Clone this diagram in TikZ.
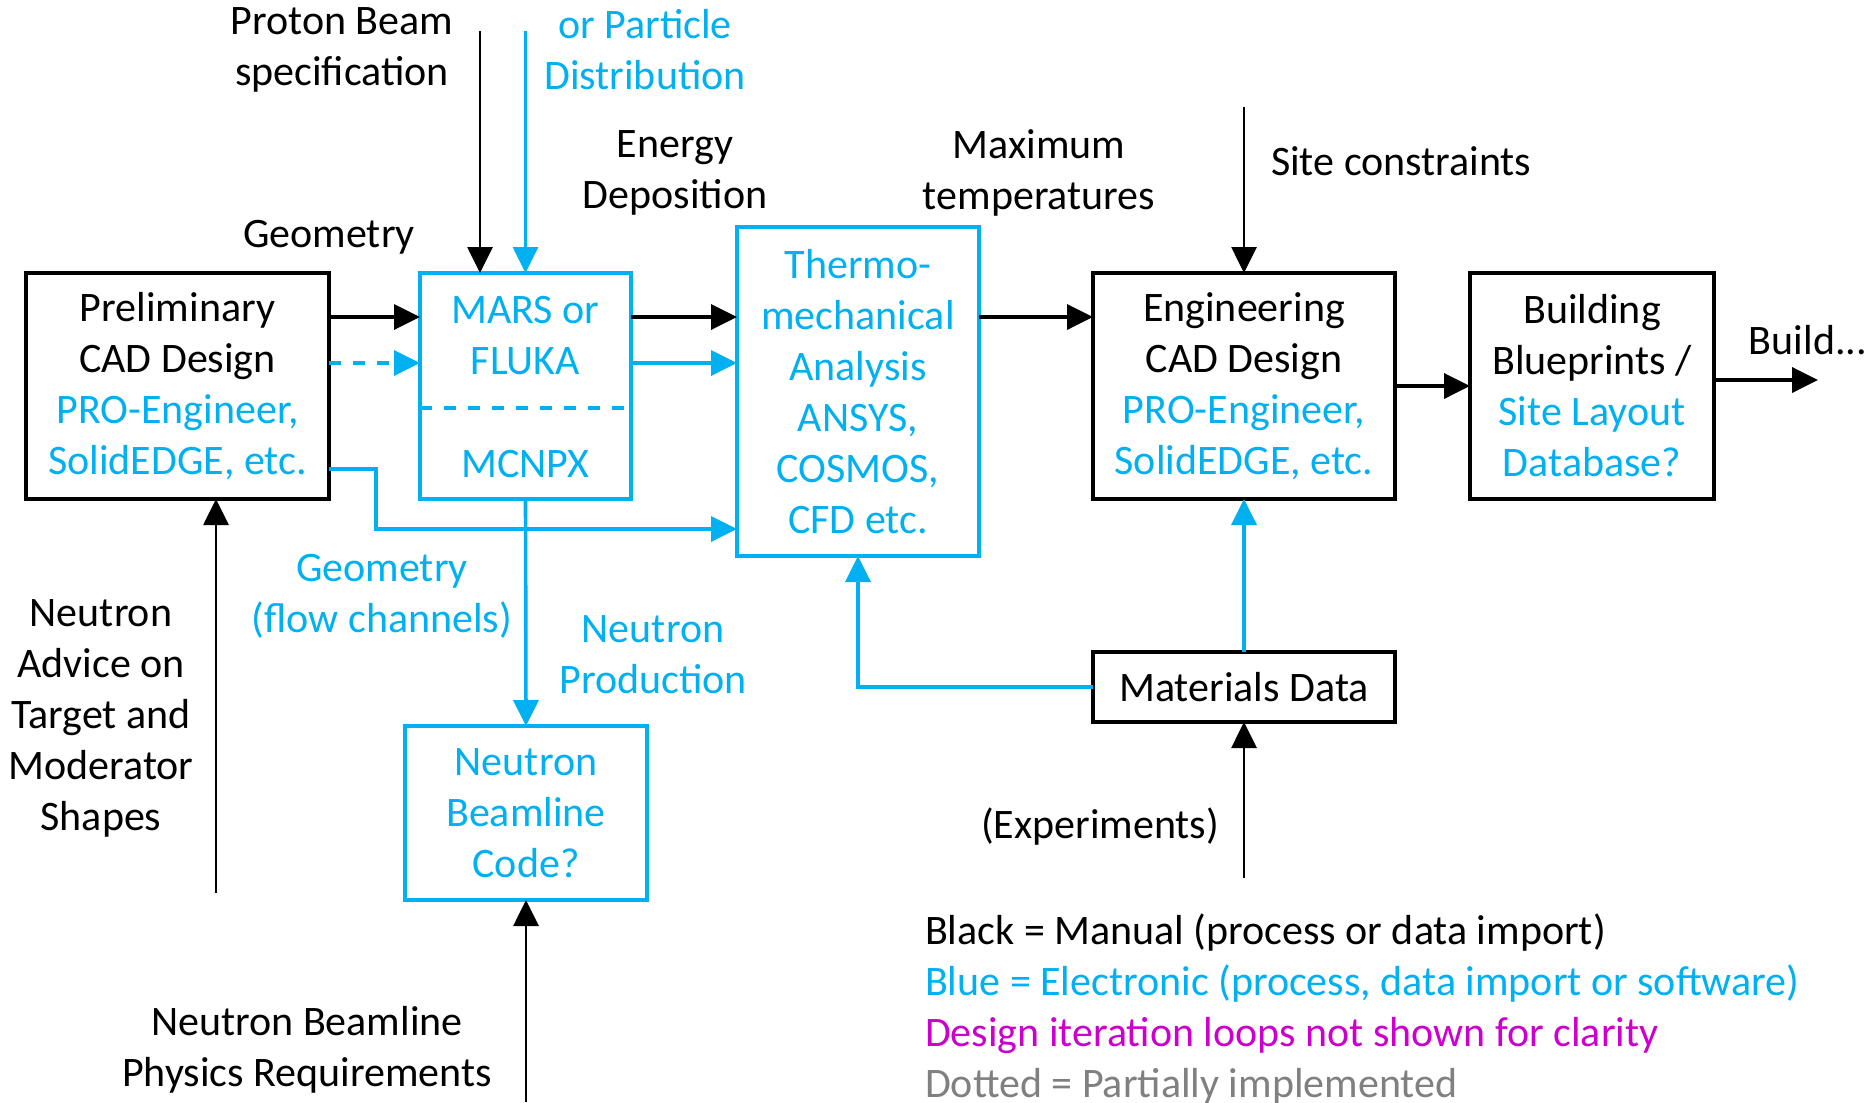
\documentclass[tikz,border=0pt]{standalone}
\usepackage{fontspec}
\setmainfont{Carlito}
\usepackage{xcolor}
\usetikzlibrary{positioning, arrows.meta}
\definecolor{eblue}{RGB}{0,176,240}
\definecolor{loopmag}{RGB}{204,0,204}
\definecolor{partgray}{RGB}{128,128,128}

\begin{document}
\begin{tikzpicture}[x=0.5pt, y=-0.5pt,
    every node/.style={font=\fontsize{21}{25.5}\selectfont, align=center},
    box/.style={draw=black, line width=2pt, inner sep=0pt, outer sep=0pt},
    ebox/.style={box, draw=eblue, line width=1.8pt},
    flow/.style={line width=1.8pt, -{Triangle[length=13pt, width=12.5pt]}},
    feed/.style={flow, line width=1.4pt},
    eflow/.style={flow, eblue},
    partial/.style={dash pattern=on 6pt off 6pt}]
  \useasboundingbox (0,0) rectangle (1871,1102);

  % boxes
  \node[box, minimum width=151.5pt, minimum height=113pt] (prelim) at (177.5,386)
       {Preliminary\\CAD Design\\\textcolor{eblue}{PRO-Engineer,}\\\textcolor{eblue}{SolidEDGE, etc.}};
  \node[ebox, minimum width=105.5pt, minimum height=113pt] (mars) at (525.5,386) {};
  \node[text=eblue] (marstxt) at (525.5,336) {MARS or\\FLUKA};
  \node[text=eblue] (mcnpx) at (525.5,464) {MCNPX};
  \draw[eblue, line width=1.8pt, partial]
       (mars.west |- 0,408) -- (mars.east |- 0,408);
  \node[ebox, text=eblue, minimum width=121pt, minimum height=164.5pt] (thermo) at (858,391.5)
       {Thermo-\\mechanical\\Analysis\\ANSYS,\\COSMOS,\\CFD etc.};
  \node[box, minimum width=151pt, minimum height=113pt] (eng) at (1244,386)
       {Engineering\\CAD Design\\\textcolor{eblue}{PRO-Engineer,}\\\textcolor{eblue}{SolidEDGE, etc.}};
  \node[box, minimum width=122pt, minimum height=113pt] (build) at (1592,386)
       {Building\\Blueprints /\\\textcolor{eblue}{Site Layout}\\\textcolor{eblue}{Database?}};
  \node[box, minimum width=151pt, minimum height=35pt] (mat) at (1244,687) {Materials Data};
  \node[ebox, text=eblue, minimum width=121pt, minimum height=87pt] (nbc) at (526,813)
       {Neutron\\Beamline\\Code?};

  % free ends
  \coordinate (proton) at (480,31);
  \coordinate (particle) at (525.5,31);
  \coordinate (site) at (1244,107);
  \coordinate (advice) at (216,893);
  \coordinate (physreq) at (526,1102);
  \coordinate (expt) at (1244,878);
  \coordinate (buildout) at (1818,380);

  % connectors
  \draw[flow] (prelim.east |- 0,317) -- (mars.west |- 0,317);
  \draw[eflow, partial] (prelim.east |- 0,363) -- (mars.west |- 0,363);
  \draw[flow] (mars.east |- 0,317) -- (thermo.west |- 0,317);
  \draw[eflow] (mars.east |- 0,363) -- (thermo.west |- 0,363);
  \draw[eflow] (prelim.east |- 0,469) -- (376,469) -- (376,529) -- (thermo.west |- 0,529);
  \draw[flow] (thermo.east |- 0,317) -- (eng.west |- 0,317);
  \draw[flow] (eng.east) -- (build.west);
  \draw[flow] (build.east |- buildout) -- (buildout);
  \draw[feed] (proton) -- (proton |- mars.north);
  \draw[feed, eblue] (particle) -- (mars.north);
  \draw[feed] (site) -- (eng.north);
  \draw[feed] (advice) -- (advice |- prelim.south);
  \draw[eflow] (mars.south) -- (nbc.north);
  \draw[feed] (physreq) -- (nbc.south);
  \draw[eflow] (mat.west) -| (thermo.south);
  \draw[eflow] (mat.north) -- (eng.south);
  \draw[feed] (expt) -- (mat.south);

  % labels
  \node (protonlbl) at (342,50) {Proton Beam\\specification};
  \node[text=eblue] (particlelbl) at (645,50) {or Particle\\Distribution};
  \node (energylbl) at (675,173) {Energy\\Deposition};
  \node (templbl) at (1039,173) {Maximum\\temperatures};
  \node[anchor=west] (sitelbl) at (1264,161) {Site constraints};
  \node (geomlbl) at (329,237) {Geometry};
  \node[text=eblue] (flowlbl) at (382,596) {Geometry\\(flow channels)};
  \node[text=eblue] (prodlbl) at (653,655) {Neutron\\Production};
  \node (advicelbl) at (101,718) {Neutron\\Advice on\\Target and\\Moderator\\Shapes};
  \node (exptlbl) at (1100,827) {(Experiments)};
  \node (physlbl) at (307,1050) {Neutron Beamline\\Physics Requirements};
  \node (buildlbl) at (1808,340) {Build...};
  \node[anchor=west, align=left] (legend) at (918,1009)
       {Black = Manual (process or data import)\\
        \textcolor{eblue}{Blue = Electronic (process, data import or software)}\\
        \textcolor{loopmag}{Design iteration loops not shown for clarity}\\
        \textcolor{partgray}{Dotted = Partially implemented}};
\end{tikzpicture}
\end{document}
